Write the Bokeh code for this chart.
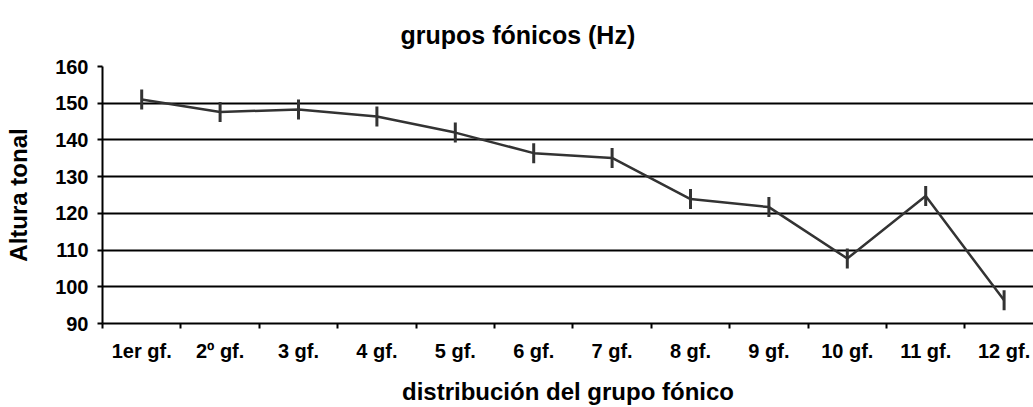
import numpy as np
from bokeh.plotting import figure
from bokeh.models import Range1d, FixedTicker, ColumnDataSource
from bokeh.embed import file_html
from bokeh.resources import INLINE

categories = ["1er gf.", "2º gf.", "3 gf.", "4 gf.", "5 gf.", "6 gf.",
              "7 gf.", "8 gf.", "9 gf.", "10 gf.", "11 gf.", "12 gf."]
values = [151.0, 147.6, 148.3, 146.4, 142.0, 136.4,
          135.1, 123.9, 121.7, 107.7, 124.7, 96.3]
y_ticks = [90, 100, 110, 120, 130, 140, 150, 160]

FONT = "Liberation Sans"

xs = [i + 0.5 for i in range(len(categories))]
src = ColumnDataSource(data=dict(x=xs, y=values, cat=categories))

p = figure(width=1033, height=407, output_backend="svg", toolbar_location=None,
           x_range=Range1d(0, 11.875), y_range=Range1d(90, 160),
           min_border_left=102, min_border_right=0, min_border_top=66,
           min_border_bottom=84)

p.title.text = "grupos  fónicos (Hz)"
p.title.text_font = FONT
p.title.text_font_style = "bold"
p.title.text_font_size = "25px"
p.title.text_color = "black"
p.title.align = "left"
p.title.offset = 298
p.title.standoff = 35

p.outline_line_color = None
p.background_fill_color = "white"
p.border_fill_color = "white"

# grid
p.xgrid.visible = False
p.ygrid.ticker = FixedTicker(ticks=y_ticks)
p.ygrid.grid_line_color = "black"
p.ygrid.grid_line_width = 2

# y axis
ya = p.yaxis[0]
ya.ticker = FixedTicker(ticks=y_ticks)
ya.axis_label = "Altura tonal"
ya.axis_label_text_font = FONT
ya.axis_label_text_font_style = "bold"
ya.axis_label_text_font_size = "24px"
ya.axis_label_text_color = "black"
ya.axis_label_standoff = 20
ya.major_label_text_font = FONT
ya.major_label_text_font_style = "bold"
ya.major_label_text_font_size = "20px"
ya.major_label_text_color = "black"
ya.major_label_standoff = 9
ya.axis_line_width = 2
ya.axis_line_color = "black"
ya.major_tick_line_width = 2
ya.major_tick_line_color = "black"
ya.major_tick_out = 5
ya.major_tick_in = 0
ya.minor_tick_line_color = None

# x axis
xa = p.xaxis[0]
xa.ticker = FixedTicker(ticks=xs, minor_ticks=list(range(len(categories) + 1)))
xa.major_label_overrides = {x: c for x, c in zip(xs, categories)}
xa.axis_label = "distribución del grupo fónico"
xa.axis_label_text_font = FONT
xa.axis_label_text_font_style = "bold"
xa.axis_label_text_font_size = "24px"
xa.axis_label_text_color = "black"
xa.axis_label_standoff = 13
xa.major_label_text_font = FONT
xa.major_label_text_font_style = "bold"
xa.major_label_text_font_size = "20px"
xa.major_label_text_color = "black"
xa.major_label_standoff = 11
xa.axis_line_width = 2
xa.axis_line_color = "black"
xa.major_tick_line_color = None
xa.major_tick_out = 0
xa.major_tick_in = 0
xa.minor_tick_line_color = "black"
xa.minor_tick_line_width = 2
xa.minor_tick_out = 5
xa.minor_tick_in = 0

p.line("x", "y", source=src, line_color="#333333", line_width=2.5)
p.scatter("x", "y", source=src, marker="dash", size=20, angle=np.pi / 2,
          line_color="#333333", line_width=3)

open("out.html", "w").write(file_html(p, INLINE))
